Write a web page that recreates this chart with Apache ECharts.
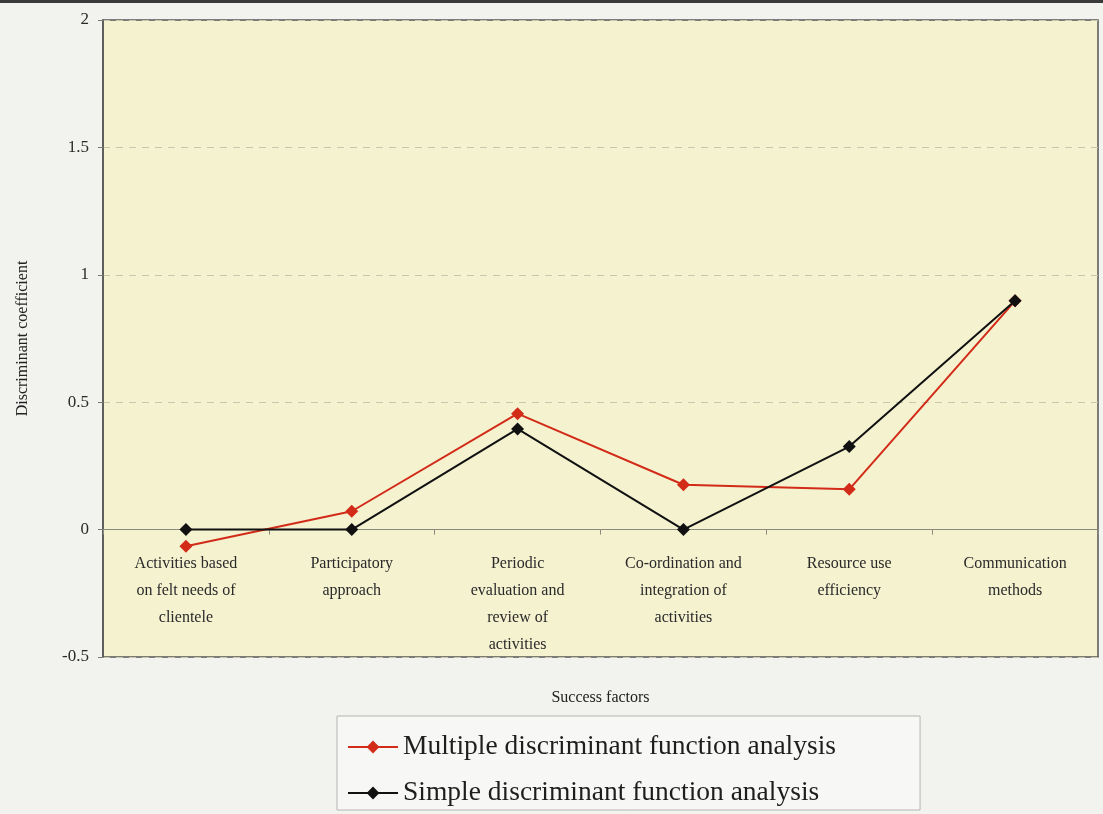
<!DOCTYPE html>
<html>
<head>
<meta charset="utf-8">
<script src="https://cdn.jsdelivr.net/npm/echarts@6/dist/echarts.min.js"></script>
<style>
  html, body { margin: 0; padding: 0; background: #f2f2ef; }
  #chart { width: 1103px; height: 814px; }
</style>
</head>
<body>
<div id="chart"></div>
<script>
// Success factors along the x axis
const categories = [
  'Activities based\non felt needs of\nclientele',
  'Participatory\napproach',
  'Periodic\nevaluation and\nreview of\nactivities',
  'Co-ordination and\nintegration of\nactivities',
  'Resource use\nefficiency',
  'Communication\nmethods'
];

// Discriminant coefficients per factor
const multipleDFA = [-0.065, 0.072, 0.455, 0.176, 0.158, 0.898];
const simpleDFA = [0, 0, 0.395, 0, 0.326, 0.898];

const seriesNames = [
  'Multiple discriminant function analysis',
  'Simple discriminant function analysis'
];

const serif = '"Liberation Serif", "DejaVu Serif", serif';

const chart = echarts.init(document.getElementById('chart'));
chart.setOption({
  backgroundColor: '#f2f2ef',
  animation: false,
  graphic: [{
    type: 'rect',
    left: 0, top: 0,
    shape: { width: 1103, height: 3 },
    style: { fill: '#3a3a3a' }
  }],
  grid: {
    left: 103, right: 5, top: 20, bottom: 157,
    outerBoundsMode: 'none',
    containLabel: false,
    show: true,
    backgroundColor: '#f5f2d0',
    borderColor: '#555',
    borderWidth: 1.5
  },
  legend: {
    orient: 'vertical',
    left: 337, top: 716,
    padding: [17, 84, 3, 10],
    itemGap: 18,
    itemWidth: 50,
    itemHeight: 16,
    borderColor: '#b5b5b5',
    borderWidth: 1,
    backgroundColor: '#f7f7f5',
    textStyle: { fontFamily: serif, fontSize: 27.5, color: '#1e1e1e' },
    data: seriesNames
  },
  xAxis: {
    type: 'category',
    data: categories,
    name: 'Success factors',
    nameLocation: 'middle',
    nameGap: 33,
    nameMoveOverlap: false,
    nameTextStyle: { fontFamily: serif, fontSize: 16, color: '#222' },
    axisLine: { onZero: true, lineStyle: { color: '#8a8a80', width: 1 } },
    axisTick: { show: true, length: 5, lineStyle: { color: '#8a8a80' } },
    axisLabel: {
      fontFamily: serif, fontSize: 16, color: '#2a2a2a',
      lineHeight: 27, margin: -107, interval: 0, verticalAlign: 'top'
    },
    splitLine: { show: false }
  },
  yAxis: {
    type: 'value',
    min: -0.5, max: 2, interval: 0.5,
    name: 'Discriminant coefficient',
    nameLocation: 'middle',
    nameGap: 72,
    nameMoveOverlap: false,
    nameTextStyle: { fontFamily: serif, fontSize: 16, color: '#222' },
    axisLine: { show: true, lineStyle: { color: '#555', width: 1.5 } },
    axisTick: { show: true, length: 5, lineStyle: { color: '#777' } },
    axisLabel: { fontFamily: serif, fontSize: 17, color: '#2a2a2a', margin: 14 },
    splitLine: { show: true, lineStyle: { color: '#c9c6ae', type: [7, 6], width: 1 } }
  },
  series: [
    {
      name: seriesNames[0],
      type: 'line',
      data: multipleDFA,
      symbol: 'diamond',
      symbolSize: 13,
      color: '#d22b18',
      lineStyle: { width: 2, color: '#d22b18' },
      itemStyle: { color: '#d22b18' },
      z: 3
    },
    {
      name: seriesNames[1],
      type: 'line',
      data: simpleDFA,
      symbol: 'diamond',
      symbolSize: 13,
      color: '#111',
      lineStyle: { width: 2, color: '#111' },
      itemStyle: { color: '#111' },
      z: 4
    }
  ]
});
</script>
</body>
</html>
